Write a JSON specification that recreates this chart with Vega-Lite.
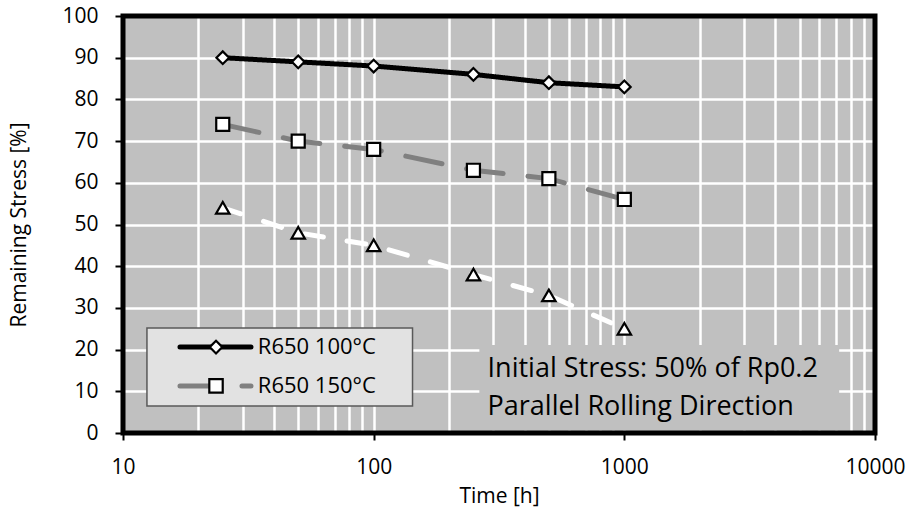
{
  "$schema": "https://vega.github.io/schema/vega-lite/v6.json",
  "width": 752,
  "height": 417,
  "autosize": {"type": "none"},
  "padding": {"left": 123, "top": 16, "right": 34, "bottom": 88},
  "background": "white",
  "config": {
    "font": "Open Sans",
    "view": {"fill": "#c0c0c0", "stroke": null},
    "text": {"fontWeight": "normal"},
    "axis": {
      "labelFont": "Open Sans", "titleFont": "Open Sans",
      "labelFontSize": 21, "titleFontSize": 21,
      "labelFontWeight": "normal",
      "labelColor": "black", "titleColor": "black", "titleFontWeight": "normal",
      "domain": false, "grid": true, "gridColor": "white", "gridWidth": 2.5, "gridOpacity": 1,
      "tickColor": "black", "tickWidth": 2, "tickSize": 7
    }
  },
  "datasets": {
    "measurements": [
      {"series": "R650 100°C", "time": 25, "stress": 90},
      {"series": "R650 100°C", "time": 50, "stress": 89},
      {"series": "R650 100°C", "time": 100, "stress": 88},
      {"series": "R650 100°C", "time": 250, "stress": 86},
      {"series": "R650 100°C", "time": 500, "stress": 84},
      {"series": "R650 100°C", "time": 1000, "stress": 83},
      {"series": "R650 150°C", "time": 25, "stress": 74},
      {"series": "R650 150°C", "time": 50, "stress": 70},
      {"series": "R650 150°C", "time": 100, "stress": 68},
      {"series": "R650 150°C", "time": 250, "stress": 63},
      {"series": "R650 150°C", "time": 500, "stress": 61},
      {"series": "R650 150°C", "time": 1000, "stress": 56},
      {"series": "R650 200°C", "time": 25, "stress": 54},
      {"series": "R650 200°C", "time": 50, "stress": 48},
      {"series": "R650 200°C", "time": 100, "stress": 45},
      {"series": "R650 200°C", "time": 250, "stress": 38},
      {"series": "R650 200°C", "time": 500, "stress": 33},
      {"series": "R650 200°C", "time": 1000, "stress": 25}
    ],
    "single": [{}]
  },
  "layer": [
    {
      "data": {"name": "single"},
      "mark": {"type": "rect", "fill": "#c0c0c0"},
      "encoding": {
        "x": {"datum": 264, "type": "quantitative",
          "scale": {"type": "log", "domain": [10, 10000]},
          "axis": {
            "values": [10,20,30,40,50,60,70,80,90,100,200,300,400,500,600,700,800,900,1000,2000,3000,4000,5000,6000,7000,8000,9000,10000],
            "labelExpr": "indexof([10,100,1000,10000], datum.value) >= 0 ? format(datum.value, 'd') : ''",
            "tickOpacity": {"condition": {"test": "indexof([10,100,1000,10000], datum.value) >= 0", "value": 1}, "value": 0},
            "labelOverlap": false, "labelFlush": false, "labelPadding": 16,
            "title": "Time [h]", "titleBaseline": "middle", "titleY": 63
          }},
        "x2": {"datum": 7194},
        "y": {"datum": 21.1, "type": "quantitative",
          "scale": {"domain": [0, 100], "nice": false},
          "axis": {
            "values": [0,10,20,30,40,50,60,70,80,90,100],
            "format": "d", "labelPadding": 17, "tickSize": 8,
            "title": "Remaining Stress [%]", "titleBaseline": "middle", "titleX": -104
          }},
        "y2": {"datum": 0.6}
      }
    },
    {
      "data": {"name": "single"},
      "mark": {"type": "rect", "fill": "#e2e2e2", "stroke": "#595959", "strokeWidth": 1.5},
      "encoding": {
        "x": {"datum": 12.46, "type": "quantitative"},
        "x2": {"datum": 142.9},
        "y": {"datum": 25.2, "type": "quantitative"},
        "y2": {"datum": 6.5}
      }
    },
    {
      "data": {"name": "measurements"},
      "mark": {"type": "line", "strokeWidth": 5, "strokeCap": "round"},
      "encoding": {
        "x": {"field": "time", "type": "quantitative"},
        "y": {"field": "stress", "type": "quantitative"},
        "color": {"field": "series", "type": "nominal", "legend": null,
          "scale": {"domain": ["R650 100°C", "R650 150°C", "R650 200°C"], "range": ["black", "#808080", "white"]}},
        "strokeDash": {"field": "series", "type": "nominal", "legend": null,
          "scale": {"domain": ["R650 100°C", "R650 150°C", "R650 200°C"], "range": [[1, 0], [37, 25], [19, 24]]}}
      }
    },
    {
      "data": {"name": "measurements"},
      "mark": {"type": "point", "filled": true, "fill": "white", "stroke": "black", "strokeWidth": 2.2, "opacity": 1},
      "encoding": {
        "x": {"field": "time", "type": "quantitative"},
        "y": {"field": "stress", "type": "quantitative"},
        "shape": {"field": "series", "type": "nominal", "legend": null,
          "scale": {"domain": ["R650 100°C", "R650 150°C", "R650 200°C"], "range": ["diamond", "square", "triangle-up"]}},
        "size": {"field": "series", "type": "nominal", "legend": null,
          "scale": {"domain": ["R650 100°C", "R650 150°C", "R650 200°C"], "range": [160, 180, 340]}}
      }
    },
    {
      "data": {"name": "single"},
      "mark": {"type": "rule", "stroke": "black", "strokeWidth": 5, "strokeCap": "round"},
      "encoding": {
        "x": {"datum": 16.88, "type": "quantitative"},
        "x2": {"datum": 32.4},
        "y": {"datum": 20.6, "type": "quantitative"}
      }
    },
    {
      "data": {"name": "single"},
      "mark": {"type": "rule", "stroke": "#808080", "strokeWidth": 5, "strokeCap": "round", "strokeDash": [37, 25]},
      "encoding": {
        "x": {"datum": 16.88, "type": "quantitative"},
        "x2": {"datum": 32.4},
        "y": {"datum": 11.3, "type": "quantitative"}
      }
    },
    {
      "data": {"name": "single"},
      "mark": {"type": "point", "shape": "diamond", "size": 160, "filled": true, "fill": "white", "stroke": "black", "strokeWidth": 2.2, "opacity": 1},
      "encoding": {
        "x": {"datum": 23.5, "type": "quantitative"},
        "y": {"datum": 20.6, "type": "quantitative"}
      }
    },
    {
      "data": {"name": "single"},
      "mark": {"type": "point", "shape": "square", "size": 180, "filled": true, "fill": "white", "stroke": "black", "strokeWidth": 2.2, "opacity": 1},
      "encoding": {
        "x": {"datum": 23.5, "type": "quantitative"},
        "y": {"datum": 11.3, "type": "quantitative"}
      }
    },
    {
      "data": {"name": "single"},
      "mark": {"type": "text", "text": "R650 100°C", "align": "left", "baseline": "middle", "fontSize": 22, "fontWeight": "normal", "font": "Open Sans", "fill": "black"},
      "encoding": {
        "x": {"datum": 34.5, "type": "quantitative"},
        "y": {"datum": 20.6, "type": "quantitative"}
      }
    },
    {
      "data": {"name": "single"},
      "mark": {"type": "text", "text": "R650 150°C", "align": "left", "baseline": "middle", "fontSize": 22, "fontWeight": "normal", "font": "Open Sans", "fill": "black"},
      "encoding": {
        "x": {"datum": 34.5, "type": "quantitative"},
        "y": {"datum": 11.3, "type": "quantitative"}
      }
    },
    {
      "data": {"name": "single"},
      "mark": {"type": "text", "text": ["Initial Stress: 50% of Rp0.2", "Parallel Rolling Direction"], "lineHeight": 38, "align": "left", "baseline": "alphabetic", "fontSize": 27, "fontWeight": "normal", "font": "Open Sans", "fill": "black"},
      "encoding": {
        "x": {"datum": 284.6, "type": "quantitative"},
        "y": {"datum": 13.4, "type": "quantitative"}
      }
    },
    {
      "data": {"name": "single"},
      "mark": {"type": "rect", "fill": null, "fillOpacity": 0, "stroke": "black", "strokeWidth": 5},
      "encoding": {
        "x": {"datum": 10, "type": "quantitative"},
        "x2": {"datum": 10000},
        "y": {"datum": 0, "type": "quantitative"},
        "y2": {"datum": 100}
      }
    }
  ]
}
